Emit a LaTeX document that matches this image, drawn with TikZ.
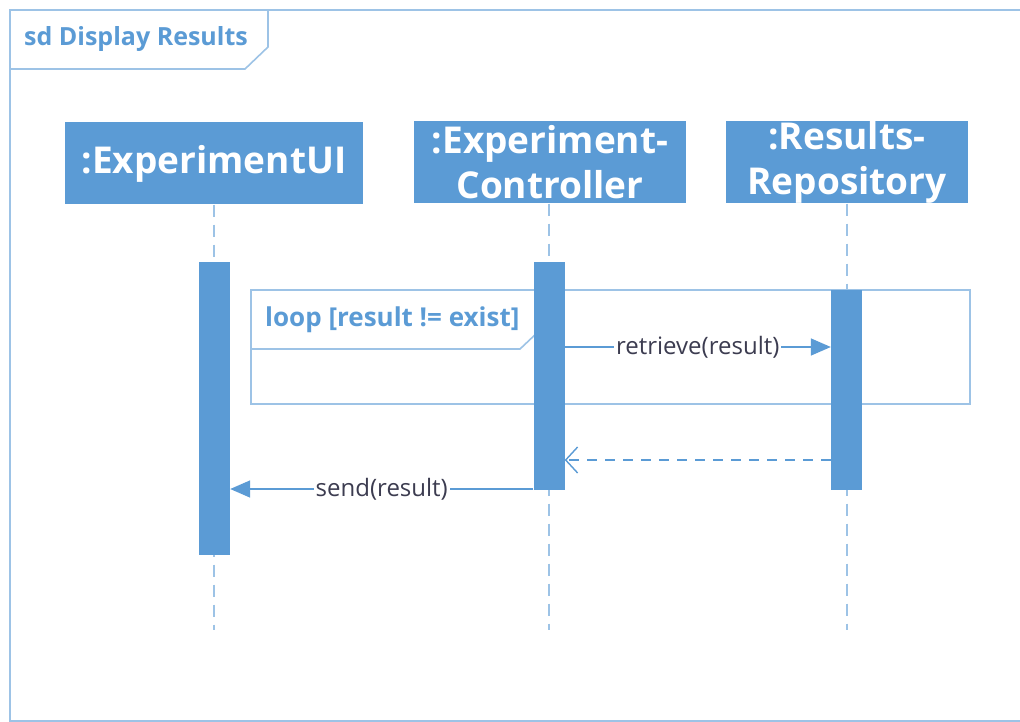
\documentclass[tikz,border=0pt]{standalone}
\usepackage{fontspec}
\setmainfont{Open Sans}
\usetikzlibrary{arrows.meta}
\definecolor{ublue}{HTML}{5B9BD5}
\definecolor{lblue}{HTML}{9DC3E6}
\definecolor{msgtext}{HTML}{3C3C50}
\tikzset{
  framebox/.style={draw=lblue, line width=1.6pt},
  header/.style={fill=ublue, draw=none, text=white, font=\bfseries\fontsize{37}{45}\selectfont,
    align=center, inner sep=0pt},
  lifeline/.style={draw=lblue, line width=2pt, dash pattern=on 12pt off 8pt},
  activation/.style={fill=ublue, draw=none, minimum width=31pt, inner sep=0pt, anchor=north},
  msg/.style={draw=ublue, line width=1.6pt},
  syncarrow/.style={-{Triangle[length=20pt,width=17pt]}},
  replyarrow/.style={dash pattern=on 10pt off 8pt, -{Straight Barb[length=12pt,width=26pt,line width=1.4pt]}},
  msglabel/.style={fill=white, text=msgtext, font=\fontsize{24}{26}\selectfont, inner xsep=2pt, inner ysep=1pt},
  framelabel/.style={text=ublue, font=\bfseries\fontsize{25}{28}\selectfont, anchor=west, inner sep=0pt}
}
\begin{document}
\begin{tikzpicture}[x=1pt,y=-1pt]
\useasboundingbox (0,0) rectangle (1020,722);
\fill[white] (0,0) rectangle (1020,722);

% outer sd frame and its name tag
\draw[framebox] (10,10) rectangle (1040,721);
\draw[framebox] (10,10) -- (268,10) -- (268,47) -- (245,69) -- (10,69);
\node[framelabel] (sdname) at (24,39) {sd Display Results};

% lifeline heads
\node[header, minimum width=298pt, minimum height=82pt] (ui) at (214,163.5) {:ExperimentUI};
\node[header, minimum width=272pt, minimum height=82pt] (ctl) at (550,162.5) {:Experiment-\\Controller};
\node[header, minimum width=242pt, minimum height=82pt] (rep) at (847,162.5) {:Results-\\Repository};

% lifelines
\coordinate (uiend) at (214,630);
\coordinate (ctlend) at (549,630);
\coordinate (repend) at (847,630);
\draw[lifeline] (ui.south -| uiend) -- (uiend);
\draw[lifeline] (ctl.south -| ctlend) -- (ctlend);
\draw[lifeline] (rep.south -| repend) -- (repend);

% loop combined fragment
\draw[framebox] (251,290) rectangle (970,404);
\draw[framebox] (251,290) -- (538,290) -- (538,332) -- (520,349) -- (251,349);
\node[framelabel, font=\bfseries\fontsize{26}{28}\selectfont] (looplabel) at (265,320) {loop [result != exist]};

% activation bars
\node[activation, minimum height=293pt] (uiact) at (214.5,262) {};
\node[activation, minimum height=228pt] (ctlact) at (549,262) {};
\node[activation, minimum height=200pt] (repact) at (846.5,290) {};

% messages
\coordinate (m1) at (0,347);
\coordinate (m2) at (0,460);
\coordinate (m3) at (0,489);
\draw[msg, syncarrow] (ctlact.east |- m1) -- node[msglabel] {retrieve(result)} (repact.west |- m1);
\draw[msg, replyarrow] (repact.west |- m2) -- (ctlact.east |- m2);
\draw[msg, syncarrow] (ctlact.west |- m3) -- node[msglabel] {send(result)} (uiact.east |- m3);
\end{tikzpicture}
\end{document}
